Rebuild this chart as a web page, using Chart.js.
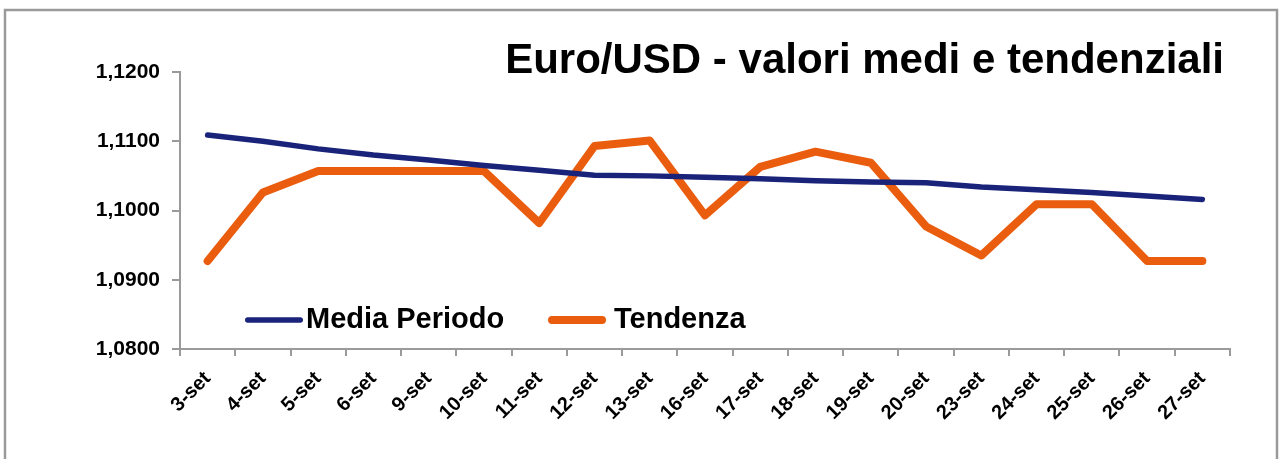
<!DOCTYPE html>
<html>
<head>
<meta charset="utf-8">
<script src="https://cdn.jsdelivr.net/npm/chart.js@4"></script>
<style>
  html, body { margin: 0; padding: 0; background: #fff; }
  #wrap { width: 1282px; height: 459px; position: relative; }
</style>
</head>
<body>
<div id="wrap"><canvas id="euroChart" width="1282" height="459"></canvas></div>
<script>
const giorni = ['3-set', '4-set', '5-set', '6-set', '9-set', '10-set', '11-set', '12-set', '13-set', '16-set',
  '17-set', '18-set', '19-set', '20-set', '23-set', '24-set', '25-set', '26-set', '27-set'];
const mediaPeriodo = [1.1109, 1.1100, 1.1089, 1.1080, 1.1073, 1.1065, 1.1058, 1.1051, 1.1050, 1.1048,
  1.1046, 1.1043, 1.1041, 1.1040, 1.1034, 1.1030, 1.1026, 1.1021, 1.1016];
const tendenza = [1.0927, 1.1026, 1.1057, 1.1057, 1.1057, 1.1057, 1.0982, 1.1093, 1.1101, 1.0993,
  1.1063, 1.1085, 1.1069, 1.0977, 1.0935, 1.1009, 1.1009, 1.0927, 1.0927];
const titolo = 'Euro/USD - valori medi e tendenziali';

const FONT = '"Liberation Sans", Arial, sans-serif';

// bordo esterno, titolo e legenda disegnati sopra il grafico
const decorPlugin = {
  id: 'decor',
  beforeDraw(chart) {
    const ctx = chart.ctx;
    ctx.save();
    ctx.strokeStyle = '#9a9a9a';
    ctx.lineWidth = 2.5;
    ctx.strokeRect(5, 10, 1272, 470);
    ctx.restore();
  },
  afterDraw(chart) {
    const ctx = chart.ctx;
    ctx.save();
    ctx.fillStyle = '#000';
    ctx.font = 'bold 42px ' + FONT;
    ctx.textAlign = 'right';
    ctx.textBaseline = 'alphabetic';
    ctx.fillText(titolo, 1224, 73);

    // legenda: linea campione + etichetta
    const voci = [{ x: 245, tx: 306 }, { x: 548, tx: 614 }];
    ctx.font = 'bold 29px ' + FONT;
    ctx.textAlign = 'left';
    chart.data.datasets.forEach((ds, i) => {
      const v = voci[i];
      const cap = ds.borderWidth / 2;
      ctx.strokeStyle = ds.borderColor;
      ctx.lineWidth = ds.borderWidth;
      ctx.lineCap = 'round';
      ctx.beginPath();
      ctx.moveTo(v.x + cap, 320);
      ctx.lineTo(v.x + 58 - cap, 320);
      ctx.stroke();
      ctx.fillText(ds.label, v.tx, 328);
    });
    ctx.restore();
  }
};

new Chart(document.getElementById('euroChart'), {
  type: 'line',
  data: {
    labels: giorni,
    datasets: [
      {
        label: 'Media Periodo',
        data: mediaPeriodo,
        borderColor: '#1a237a',
        borderWidth: 5.5,
        pointRadius: 0,
        tension: 0,
        borderCapStyle: 'round',
        borderJoinStyle: 'round'
      },
      {
        label: 'Tendenza',
        data: tendenza,
        borderColor: '#ea5d0e',
        borderWidth: 8,
        pointRadius: 0,
        tension: 0,
        borderCapStyle: 'round',
        borderJoinStyle: 'round'
      }
    ]
  },
  options: {
    responsive: false,
    animation: false,
    layout: { padding: { top: 72, right: 52, bottom: 0, left: 0 } },
    plugins: {
      legend: { display: false },
      tooltip: { enabled: false }
    },
    scales: {
      x: {
        offset: true,
        afterFit(s) { s.height = 110; },
        border: { display: true, color: '#9a9a9a', width: 2 },
        grid: { offset: true, drawOnChartArea: false, drawTicks: true, tickLength: 7, color: '#9a9a9a', lineWidth: 2 },
        ticks: {
          autoSkip: false,
          minRotation: 45,
          maxRotation: 45,
          padding: 11,
          color: '#000',
          font: { family: FONT, size: 20, weight: 'bold' }
        }
      },
      y: {
        min: 1.08,
        max: 1.12,
        afterFit(s) { s.width = 180; },
        border: { display: true, color: '#9a9a9a', width: 2 },
        grid: { drawOnChartArea: false, drawTicks: true, tickLength: 8, color: '#9a9a9a', lineWidth: 2 },
        ticks: {
          stepSize: 0.01,
          padding: 12,
          color: '#000',
          font: { family: FONT, size: 21, weight: 'bold' },
          callback: v => (Math.round(v * 10000) / 10000).toFixed(4).replace('.', ',')
        }
      }
    }
  },
  plugins: [decorPlugin]
});
</script>
</body>
</html>
